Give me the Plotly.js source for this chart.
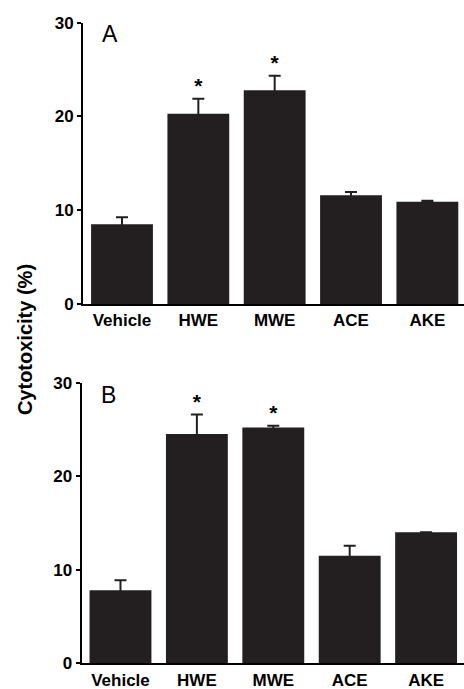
<!DOCTYPE html>
<html><head><meta charset="utf-8">
<script src="https://cdn.plot.ly/plotly-3.0.1.min.js"></script>
<style>html,body{margin:0;padding:0;background:#fff}#chart{width:464px;height:689px}</style>
</head><body><div id="chart"></div>
<script>
const categories = ["Vehicle", "HWE", "MWE", "ACE", "AKE"];
const valuesA = [8.5, 20.3, 22.8, 11.6, 10.9];
const errorsA = [0.75, 1.6, 1.55, 0.35, 0.1];
const sigA = ["", "*", "*", "", ""];
const valuesB = [7.8, 24.5, 25.2, 11.5, 14.0];
const errorsB = [1.07, 2.1, 0.2, 1.07, 0];
const sigB = ["", "*", "*", "", ""];
const yTicks = [0, 10, 20, 30];

const barColor = "#231f20";
const font = "Liberation Sans, Arial, sans-serif";

function barTrace(vals, errs, xa, ya) {
  return {
    type: "bar", x: categories, y: vals, xaxis: xa, yaxis: ya,
    marker: {color: barColor, line: {width: 0}}, width: 0.81,
    error_y: {type: "data", symmetric: true, array: errs,
      color: barColor, thickness: 2, width: 6},
    hoverinfo: "skip", showlegend: false
  };
}
function sigTrace(vals, errs, sig, xa, ya) {
  return {
    type: "scatter", mode: "text", x: categories, y: vals.map((v, i) => v + errs[i]),
    text: sig, textposition: "top center", xaxis: xa, yaxis: ya,
    textfont: {family: font, size: 21, color: "#000", weight: "bold"},
    hoverinfo: "skip", showlegend: false, cliponaxis: false
  };
}

const xBase = {
  type: "category", showline: true, linewidth: 2, linecolor: "#000",
  ticks: "", showgrid: false, zeroline: false, fixedrange: true,
  tickfont: {family: font, size: 17, color: "#000", weight: "bold"}
};
const yBase = {
  range: [0, 30], tickvals: yTicks, ticktext: yTicks.map(String),
  showline: true, linewidth: 2, linecolor: "#000", ticks: "outside", ticklen: 4, tickwidth: 2, tickcolor: "#000",
  showgrid: false, zeroline: false, fixedrange: true,
  tickfont: {family: font, size: 17, color: "#000", weight: "bold"}
};

const data = [
  barTrace(valuesA, errorsA, "x", "y"),
  sigTrace(valuesA, errorsA, sigA, "x", "y"),
  barTrace(valuesB, errorsB, "x2", "y2"),
  sigTrace(valuesB, errorsB, sigB, "x2", "y2")
];

const layout = {
  width: 464, height: 689, margin: {l: 0, r: 0, t: 0, b: 0},
  paper_bgcolor: "#fff", plot_bgcolor: "#fff", showlegend: false,
  xaxis: Object.assign({}, xBase, {domain: [0.179, 1], range: [-0.51, 4.48], anchor: "y"}),
  yaxis: Object.assign({}, yBase, {domain: [0.5588, 0.9671], anchor: "x"}),
  xaxis2: Object.assign({}, xBase, {domain: [0.176, 1], range: [-0.508, 4.496], anchor: "y2"}),
  yaxis2: Object.assign({}, yBase, {domain: [0.0373, 0.4446], anchor: "x2"}),
  annotations: [
    {text: "Cytotoxicity (%)", xref: "paper", yref: "paper", x: 0.054, y: 0.5065, textangle: -90,
     xanchor: "center", yanchor: "middle",
     showarrow: false, font: {family: font, size: 20, color: "#000", weight: "bold"}},
    {text: "A", xref: "paper", yref: "paper", x: 0.237, y: 0.951, xanchor: "center", yanchor: "middle",
     showarrow: false, font: {family: font, size: 23, color: "#000"}},
    {text: "B", xref: "paper", yref: "paper", x: 0.233, y: 0.427, xanchor: "center", yanchor: "middle",
     showarrow: false, font: {family: font, size: 23, color: "#000"}}
  ]
};

Plotly.newPlot("chart", data, layout, {staticPlot: true, displayModeBar: false});
</script></body></html>
